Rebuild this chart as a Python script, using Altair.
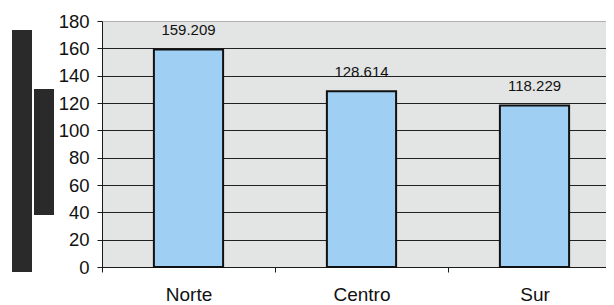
import altair as alt
import pandas as pd

regions = ["Norte", "Centro", "Sur"]
values = [159.209, 128.614, 118.229]
labels = ["159.209", "128.614", "118.229"]
y_ticks = [0, 20, 40, 60, 80, 100, 120, 140, 160, 180]

df = pd.DataFrame({
    "region": regions,
    "idx": list(range(len(regions))),
    "value": values,
    "label": labels,
})

FONT = "Liberation Sans"
W, H = 504, 246
STEP = 173            # pixel width of one category slot
HALF_BAR = 0.2        # bar half-width as a fraction of a slot

x_scale = alt.Scale(domain=[-0.5, -0.5 + W / STEP], nice=False, zero=False)
label_expr = " : ".join(
    [f"datum.value < {i}.0 ? '{r}'" for i, r in enumerate(regions[:-1])] + [f"'{regions[-1]}'"]
)

x_axis = alt.Axis(
    title=None, values=[i - 0.5 for i in range(len(regions))], labelExpr=label_expr,
    labelOffset=STEP / 2, labelAngle=0, tickSize=5, tickColor="#1a1a1a",
    domainColor="#1a1a1a", labelFontSize=19, labelPadding=13, labelColor="#111111",
    labelFont=FONT, grid=False, labelAlign="center", labelBound=False, labelOverlap=False,
)
y_scale = alt.Scale(domain=[0, 180], nice=False, padding=0, zero=True)
y_axis = alt.Axis(
    title=None, values=y_ticks, tickSize=5, tickColor="#1a1a1a",
    domainColor="#1a1a1a", labelFontSize=18.5, labelPadding=8,
    labelColor="#111111", labelFont=FONT, grid=True, labelOverlap=False,
    gridColor={"condition": {"test": "datum.value === 180", "value": "#b0b0b0"}, "value": "#222222"},
    gridWidth=1,
)

base = alt.Chart(df).transform_calculate(
    x0=f"datum.idx - {HALF_BAR}", x1=f"datum.idx + {HALF_BAR}"
)

bars = base.mark_rect(color="#9fcff2", stroke="#111111", strokeWidth=2).encode(
    x=alt.X("x0:Q", scale=x_scale, axis=x_axis), x2="x1:Q",
    y=alt.Y("value:Q", scale=y_scale, axis=y_axis), y2=alt.datum(0),
)

text = base.mark_text(
    font=FONT, fontSize=15, baseline="alphabetic", dy=-14, color="#111111"
).encode(
    x=alt.X("idx:Q", scale=x_scale, axis=x_axis),
    y=alt.Y("value:Q", scale=y_scale, axis=y_axis),
    text="label:N",
)

# decorative dark blocks at the left margin (scan artefacts in the reference)
blk = alt.Chart(pd.DataFrame({"k": [0]}))
block1 = blk.mark_rect(color="#2a2a2a").encode(
    x=alt.value(-90), x2=alt.value(-70), y=alt.value(9), y2=alt.value(251)
)
block2 = blk.mark_rect(color="#2a2a2a").encode(
    x=alt.value(-68), x2=alt.value(-48), y=alt.value(68), y2=alt.value(194)
)

chart = alt.layer(bars, text, block1, block2).properties(
    width=W, height=H,
    padding={"left": 94, "top": 13, "right": 0, "bottom": 38},
    autosize=alt.AutoSizeParams(type="none"),
    background="white",
).configure_view(fill="#e3e5e5", strokeWidth=0)

chart.save("out.html", embed_options={"renderer": "svg", "actions": False})
